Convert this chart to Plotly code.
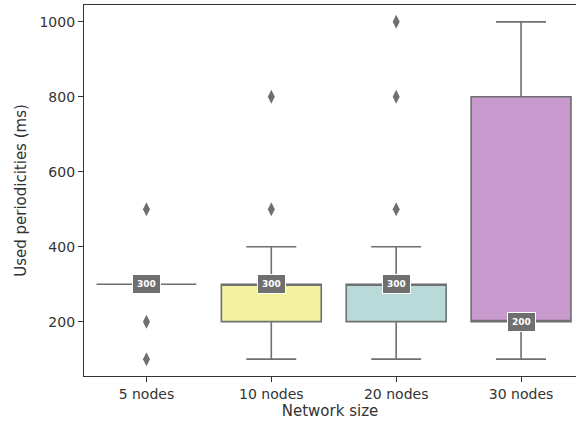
import plotly.graph_objects as go

# datos
categorias = ['5 nodes', '10 nodes', '20 nodes', '30 nodes']
q1 = [300, 200, 200, 200]
mediana = [300, 300, 300, 200]
q3 = [300, 300, 300, 800]
bigote_inf = [300, 100, 100, 100]
bigote_sup = [300, 400, 400, 1000]
colores = ['#d9d9d9', '#f1f1a0', '#b8dad8', '#c899cd']

outliers_x = ['5 nodes', '5 nodes', '5 nodes',
              '10 nodes', '10 nodes',
              '20 nodes', '20 nodes', '20 nodes']
outliers_y = [500, 200, 100,
              500, 800,
              500, 800, 1000]

gris = '#6f6f6f'

fig = go.Figure()

for i, cat in enumerate(categorias):
    fig.add_trace(go.Box(
        x=[cat],
        q1=[q1[i]], median=[mediana[i]], q3=[q3[i]],
        lowerfence=[bigote_inf[i]], upperfence=[bigote_sup[i]],
        width=0.8,
        fillcolor=colores[i],
        line=dict(color=gris, width=1.6),
        whiskerwidth=0.5,
        boxpoints=False,
        hoverinfo='skip',
        showlegend=False,
    ))

# puntos atipicos
fig.add_trace(go.Scatter(
    x=outliers_x, y=outliers_y,
    mode='markers',
    marker=dict(symbol='diamond-tall', size=10, color=gris),
    showlegend=False, hoverinfo='skip',
))

# etiquetas de la mediana
for cat, m in zip(categorias, mediana):
    fig.add_annotation(
        x=cat, y=m, text=f'<b>{m}</b>', showarrow=False,
        font=dict(family='DejaVu Sans', size=9, color='white'),
        bgcolor=gris, bordercolor='white', borderwidth=1, borderpad=4,
    )

fig.update_layout(
    width=576, height=428,
    margin=dict(l=84, r=0, t=5, b=52),
    paper_bgcolor='white', plot_bgcolor='white',
    boxmode='overlay',
    font=dict(family='DejaVu Sans', size=14, color='#333333'),
    xaxis=dict(
        title=dict(text='Network size', font=dict(size=15), standoff=2),
        categoryorder='array', categoryarray=categorias,
        range=[-0.5, 3.44],
        showline=True, mirror=True, linecolor='#333333', linewidth=1.3,
        ticks='outside', ticklen=5, tickcolor='#333333', showgrid=False,
    ),
    yaxis=dict(
        title=dict(text='Used periodicities (ms)', font=dict(size=15), standoff=9),
        range=[55, 1045],
        tickvals=[200, 400, 600, 800, 1000],
        showline=True, linecolor='#333333', linewidth=1.3,
        ticks='outside', ticklen=5, tickcolor='#333333',
        showgrid=False, zeroline=False,
    ),
)

fig.write_html('out.html', config={'displayModeBar': False},
               post_script="document.body.style.margin='0px';")
